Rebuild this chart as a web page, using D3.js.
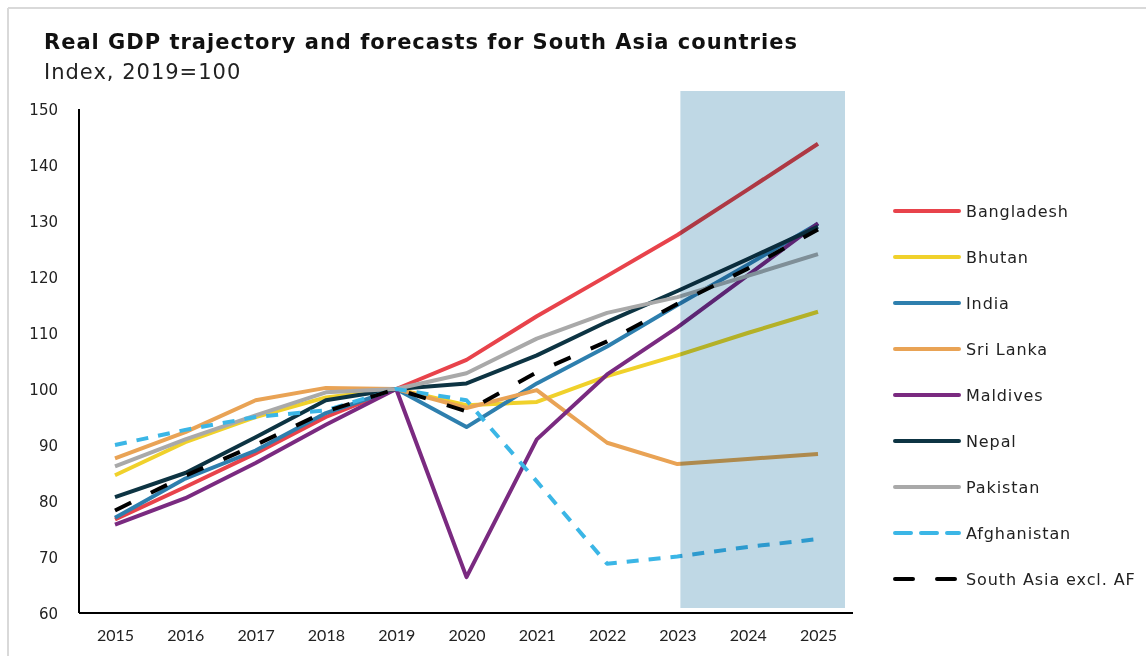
<!DOCTYPE html>
<html>
<head>
<meta charset="utf-8">
<script src="https://cdn.jsdelivr.net/npm/d3@7"></script>
<style>
  body { margin: 0; background: #fff; }
  svg { display: block; }
</style>
</head>
<body>
<svg id="chart" width="1146" height="656"></svg>
<script>
var years = [2015, 2016, 2017, 2018, 2019, 2020, 2021, 2022, 2023, 2024, 2025];
var yTicks = [60, 70, 80, 90, 100, 110, 120, 130, 140, 150];
var forecastYears = [2023, 2025];

var bangladesh = [76.7, 82.5, 88.5, 95.0, 100, 105.2, 113.0, 120.2, 127.5, 135.6, 143.8];
var bhutan     = [84.6, 90.5, 95.0, 98.5, 100, 97.1, 97.7, 102.3, 106.0, 110.0, 113.8];
var india      = [77.0, 84.0, 89.0, 95.7, 100, 93.2, 101.0, 107.6, 115.0, 122.2, 129.5];
var sriLanka   = [87.6, 92.3, 98.0, 100.2, 100, 96.6, 99.8, 90.4, 86.6, 87.5, 88.4];
var maldives   = [75.8, 80.5, 86.8, 93.6, 100, 66.4, 91.0, 102.6, 111.0, 120.3, 129.6];
var nepal      = [80.7, 85.0, 91.4, 98.0, 100, 101.0, 106.0, 112.0, 117.5, 123.2, 129.0];
var pakistan   = [86.2, 91.0, 95.3, 99.4, 100, 102.8, 109.0, 113.6, 116.4, 120.2, 124.1];
var afghanistan = [90.0, 92.7, 95.0, 96.2, 100, 98.0, 83.5, 68.8, 70.1, 71.8, 73.2];
var southAsia  = [78.3, 84.5, 90.0, 96.0, 100, 96.0, 103.0, 108.5, 115.2, 121.5, 128.5];

var series = [
  { name: "Bangladesh", values: bangladesh, color: "#e8434b", dash: null },
  { name: "Bhutan", values: bhutan, color: "#f0d12b", dash: null },
  { name: "India", values: india, color: "#2e7fae", dash: null },
  { name: "Sri Lanka", values: sriLanka, color: "#e9a355", dash: null },
  { name: "Maldives", values: maldives, color: "#7a2a80", dash: null },
  { name: "Nepal", values: nepal, color: "#0d3443", dash: null },
  { name: "Pakistan", values: pakistan, color: "#a9a9a9", dash: null },
  { name: "Afghanistan", values: afghanistan, color: "#3bb6e6", dash: "12,10" },
  { name: "South Asia excl. AF", values: southAsia, color: "#000000", dash: "18,22" }
];

var textFont = "'DejaVu Sans', sans-serif";

var svg = d3.select("#chart");

// frame
svg.append("line").attr("x1", 8).attr("x2", 1146).attr("y1", 8).attr("y2", 8)
  .attr("stroke", "#d9d9d9").attr("stroke-width", 2);
svg.append("line").attr("x1", 8).attr("x2", 8).attr("y1", 8).attr("y2", 656)
  .attr("stroke", "#d9d9d9").attr("stroke-width", 2);

svg.append("text").attr("x", 44).attr("y", 49)
  .style("font-family", textFont).style("font-weight", "bold")
  .style("font-size", "21px").style("letter-spacing", "1px").attr("fill", "#111")
  .text("Real GDP trajectory and forecasts for South Asia countries");
svg.append("text").attr("x", 44).attr("y", 79)
  .style("font-family", textFont)
  .style("font-size", "21px").style("letter-spacing", "1px").attr("fill", "#222")
  .text("Index, 2019=100");

var x = d3.scaleLinear().domain([2015, 2025]).range([115, 818]);
var y = d3.scaleLinear().domain([60, 150]).range([613, 109]);

var line = d3.line()
  .x(function(d, i) { return x(years[i]); })
  .y(function(d) { return y(d); });

var g = svg.append("g");

g.selectAll("path.series")
  .data(series)
  .enter()
  .append("path")
  .attr("class", "series")
  .attr("d", function(d) { return line(d.values); })
  .attr("fill", "none")
  .attr("stroke", function(d) { return d.color; })
  .attr("stroke-width", 4)
  .attr("stroke-linejoin", "round")
  .attr("stroke-dasharray", function(d) { return d.dash; });

// forecast shading drawn over the lines
svg.append("rect")
  .attr("x", x(forecastYears[0]) + 3)
  .attr("width", x(forecastYears[1]) - x(forecastYears[0]) + 24)
  .attr("y", 91)
  .attr("height", 517)
  .attr("fill", "#bfd8e5")
  .style("mix-blend-mode", "multiply");

// axes
var yAxis = d3.axisLeft(y).tickValues(yTicks).tickSize(0).tickPadding(21);
var yg = svg.append("g").attr("transform", "translate(79,0)").call(yAxis);
yg.select(".domain").attr("stroke", "#000").attr("stroke-width", 2)
  .attr("d", "M0," + y(150) + "V" + y(60));
yg.selectAll("text").style("font-family", textFont)
  .style("font-size", "15px").attr("fill", "#222").attr("dy", "0.35em");

var xAxis = d3.axisBottom(x).tickValues(years).tickFormat(d3.format("d")).tickSize(0).tickPadding(17);
var xg = svg.append("g").attr("transform", "translate(0,613)").call(xAxis);
xg.select(".domain").attr("stroke", "#000").attr("stroke-width", 2)
  .attr("d", "M79,0H853");
xg.selectAll("text").style("font-family", "Lato, sans-serif")
  .style("font-size", "16px").attr("fill", "#222");

// legend
var legend = svg.append("g").selectAll("g")
  .data(series)
  .enter()
  .append("g")
  .attr("transform", function(d, i) { return "translate(893," + (211 + i * 46) + ")"; });

legend.append("line")
  .attr("x1", 2).attr("x2", 66)
  .attr("stroke", function(d) { return d.color; })
  .attr("stroke-width", 4)
  .attr("stroke-linecap", "round")
  .attr("stroke-dasharray", function(d) {
    if (d.name === "Afghanistan") return "16,10";
    if (d.name === "South Asia excl. AF") return "18,24";
    return null;
  });

legend.append("text")
  .attr("x", 73).attr("dy", "0.35em")
  .style("font-family", textFont)
  .style("font-size", "16px").style("letter-spacing", "0.9px").attr("fill", "#222")
  .text(function(d) { return d.name; });
</script>
</body>
</html>
